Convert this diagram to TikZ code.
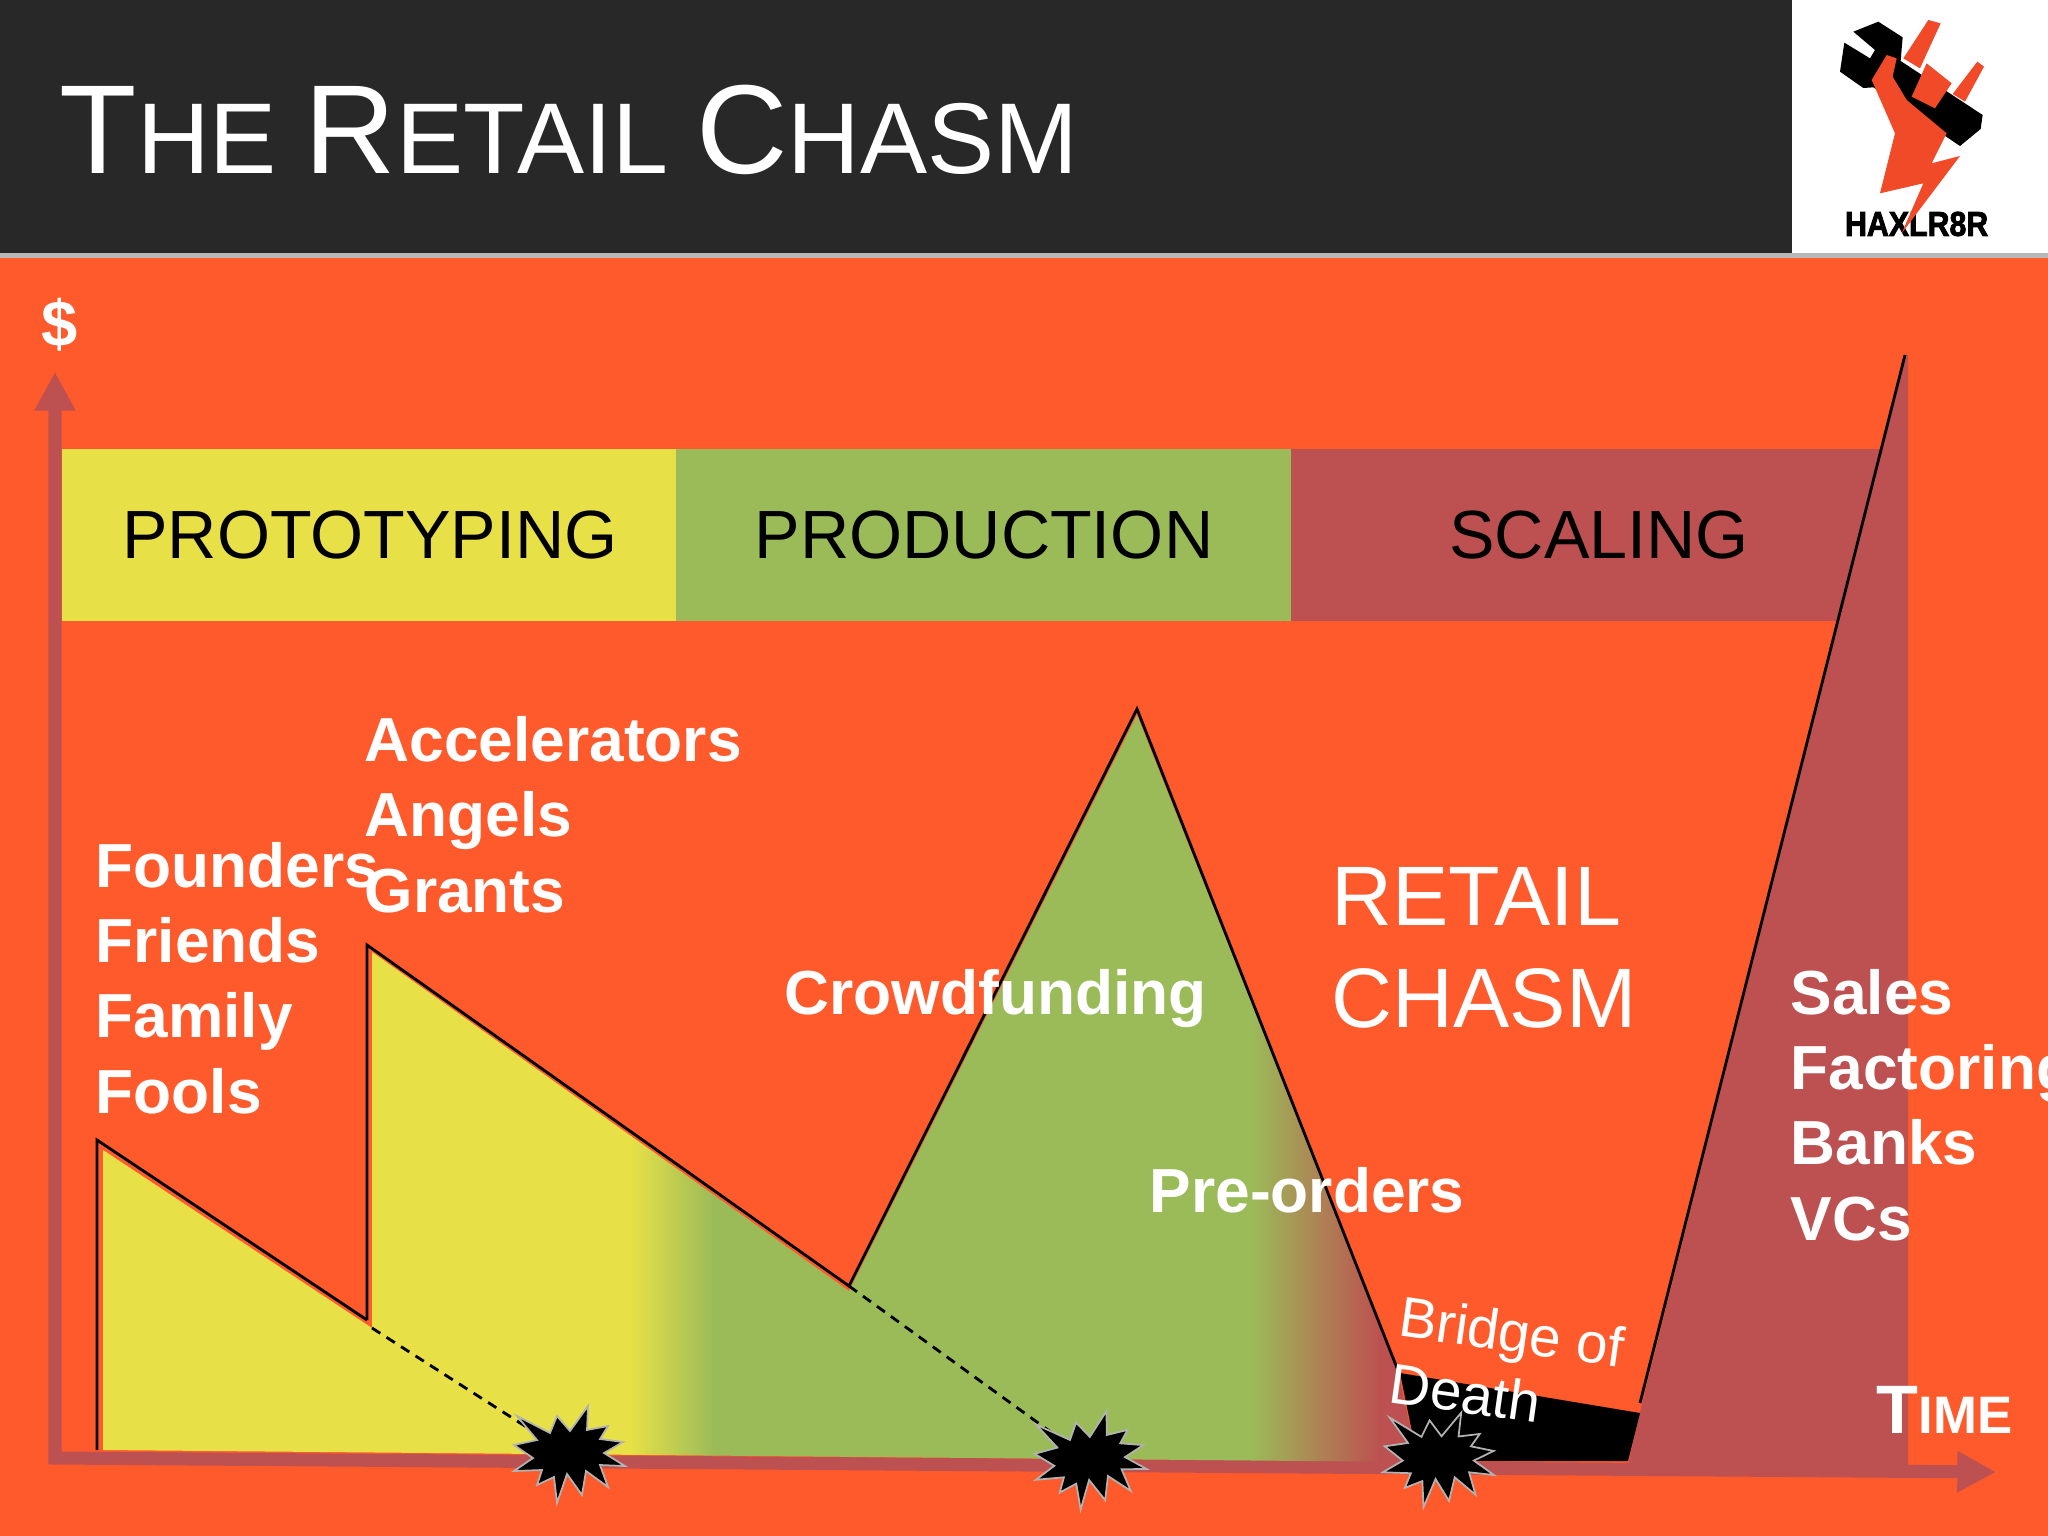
\documentclass[tikz,border=0pt]{standalone}
\usepackage{fontspec}
\setmainfont{Liberation Sans}
\newfontfamily\logofont[BoldFeatures={FakeBold=2.5}]{Liberation Sans}
\usetikzlibrary{arrows.meta}
\definecolor{chasmorange}{HTML}{FF5A2C}
\definecolor{chasmdark}{HTML}{282828}
\definecolor{phaseyellow}{HTML}{E7E047}
\definecolor{phasegreen}{HTML}{9BBB59}
\definecolor{phasered}{HTML}{BD5050}
\definecolor{logored}{HTML}{F04A28}
\newcommand{\bigcaps}[1]{{\fontsize{36}{40}\selectfont #1}}
\newcommand{\timecap}[1]{{\fontsize{19.5}{22}\selectfont #1}}
\tikzset{
  phasebox/.style={inner sep=0pt,minimum width=6.15cm,minimum height=1.72cm,text=black,font=\fontsize{19.4}{23}\selectfont},
  fundtext/.style={inner sep=0pt,anchor=base west,align=left,text=white,font=\fontsize{17.7}{21.4}\bfseries\selectfont},
  chasmtext/.style={inner sep=0pt,anchor=base west,align=left,text=white,font=\fontsize{24}{29}\selectfont},
  bridgetext/.style={inner sep=0pt,anchor=base west,align=left,text=white,rotate=-8,font=\fontsize{16.1}{19}\selectfont},
  edgeline/.style={color=black,line width=0.8pt},
  dashline/.style={color=black,line width=0.8pt,dash pattern=on 2.8pt off 2.1pt},
  axisline/.style={color=phasered,line width=3.7pt,{Triangle[length=11pt,width=11pt]}-{Triangle[length=11pt,width=11pt]}},
  burst/.pic={
    \draw[fill=black,draw=black!30,line width=0.5pt] (-50,-37) -- (-17,-20) -- (-10,-37) -- (3,-22) -- (21,-47) -- (20,-23) -- (41,-27) -- (33,-14) -- (56,-11) -- (37,0) -- (58,13) -- (33,12) -- (41,34) -- (19,18) -- (15,42) -- (0,21) -- (-10,50) -- (-13,24) -- (-30,32) -- (-25,17) -- (-53,18) -- (-34,5) -- (-53,-8) -- (-30,-13) -- cycle;
  }
}
\begin{document}
\begin{tikzpicture}[x=0.01cm,y=-0.01cm]
\useasboundingbox (0,0) rectangle (2048,1536);
\fill[chasmorange] (0,255) rectangle (2048,1536);
\fill[white] (1792,0) rectangle (2048,255);
\fill[chasmdark] (0,0) rectangle (1792,253);
\fill[black!28] (0,253) rectangle (2048,258);

\begin{scope}[shift={(1750,0)},scale=0.3333]
\node[inner sep=0pt,text=black,xscale=0.88,font=\logofont\bfseries\fontsize{9.8}{10}\selectfont] (logoname) at (500,672) {HAXLR8R};
\fill[logored] (535,60) -- (572,70) -- (510,205) -- (460,175) -- cycle;
\fill[logored] (682,185) -- (702,200) -- (645,305) -- (608,282) -- cycle;
\fill[black] (310,95) -- (385,65) -- (458,112) -- (452,183) -- (698,345) -- (692,387) -- (630,438) -- (370,262) -- (340,264) -- (270,215) -- (283,128) -- (360,175) -- (375,150) -- cycle;
\fill[logored] (530,190) -- (605,250) -- (555,325) -- (485,290) -- cycle;
\fill[logored] (410,165) -- (440,175) -- (428,230) -- (470,300) -- (590,400) -- (545,490) -- (630,468) -- (455,700) -- (520,550) -- (390,580) -- (435,400) -- (365,240) -- cycle;
\end{scope}

\node[inner sep=0pt,anchor=base west,text=white] (title) at (59,173) {\bigcaps{T}\fontsize{28.6}{32}\selectfont HE \bigcaps{R}ETAIL \bigcaps{C}HASM};
\node[inner sep=0pt,anchor=base,text=white,font=\fontsize{18.5}{22}\bfseries\selectfont] (dollar) at (60,346) {\$};

\draw[axisline] (55,372) -- (55,1458) -- (1996,1472);

\node[phasebox,fill=phaseyellow] (prototyping) at (370,535) {PROTOTYPING};
\node[phasebox,fill=phasegreen] (production) at (984,535) {PRODUCTION};
\node[phasebox,fill=phasered] (scaling) at (1599,535) {SCALING};

\coordinate (seedtop) at (97,1140);
\coordinate (seedfoot) at (97,1450);
\coordinate (seedend) at (367,1320);
\coordinate (acceltop) at (367,945);
\coordinate (accelend) at (849,1286);
\coordinate (crowdtop) at (1137,709);
\coordinate (crowdend) at (1397,1368);
\coordinate (salesfoot) at (1640,1403);
\coordinate (salestop) at (1905,355);
\coordinate (burstA) at (567,1453);
\coordinate (burstB) at (1088,1459);
\coordinate (burstC) at (1437,1458);

\begin{scope}
\clip (103,1150) -- (372,1328) -- (372,952) -- (849,1291) -- (1137,715) -- (1398,1372) -- (1418,1462) -- (103,1450) -- cycle;
\fill[phaseyellow] (90,700) rectangle (632,1480);
\shade[left color=phaseyellow,right color=phasegreen] (631,700) rectangle (714,1480);
\fill[phasegreen] (713,700) rectangle (1251,1480);
\shade[left color=phasegreen,right color=phasered] (1250,700) rectangle (1381,1480);
\fill[phasered] (1380,700) rectangle (1430,1480);
\end{scope}
\fill[phasered] (1905,355) -- (1908,355) -- (1908,1474) -- (1627,1470) -- (1640,1412) -- cycle;
\fill[black] (1400,1373) -- (1640,1413) -- (1628,1461) -- (1418,1461) -- cycle;

\draw[edgeline] (seedfoot) -- (seedtop) -- (seedend);
\draw[edgeline] (seedend) -- (acceltop) -- (accelend) -- (crowdtop) -- (crowdend);
\draw[edgeline] (salesfoot) -- (salestop);
\draw[dashline] (372,1328) -- (burstA);
\draw[dashline] (accelend) -- (burstB);

\pic at (burstA) {burst};
\pic[rotate=3] at (burstB) {burst};
\pic[rotate=-4] at (burstC) {burst};

\node[fundtext] (founders) at (95,1113) {Founders\\Friends\\Family\\Fools};
\node[fundtext] (accelerators) at (364,912) {Accelerators\\Angels\\Grants};
\node[fundtext] (crowdfunding) at (784,1014) {Crowdfunding};
\node[fundtext] (preorders) at (1149,1212) {Pre-orders};
\node[fundtext] (sales) at (1790,1240) {Sales\\Factoring\\Banks\\VCs};
\node[chasmtext] (retail) at (1331,1027) {RETAIL\\CHASM};
\node[bridgetext] (bridge) at (1387,1402) {Bridge of\\Death};
\node[inner sep=0pt,anchor=base west,text=white,font=\fontsize{15}{18}\bfseries\selectfont] (timelabel) at (1876,1433) {\timecap{T}IME};
\end{tikzpicture}
\end{document}
